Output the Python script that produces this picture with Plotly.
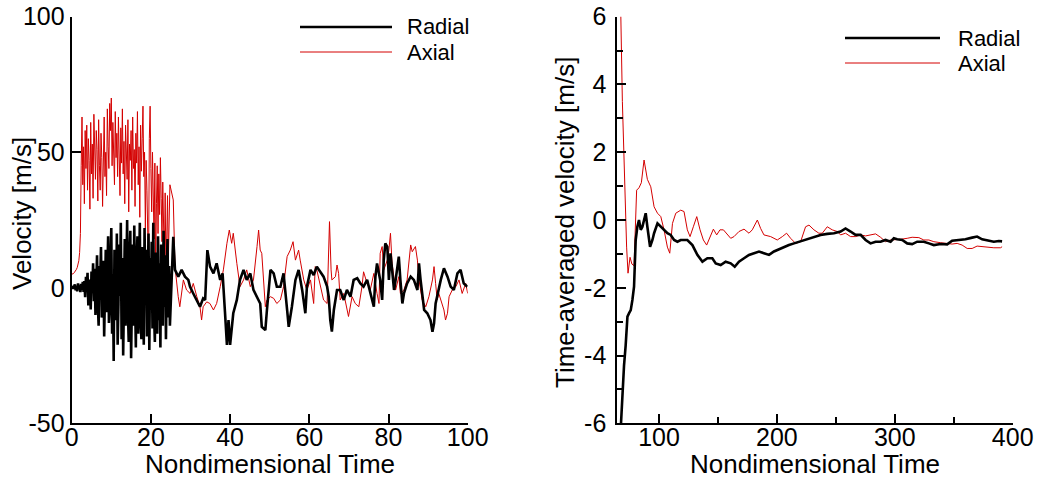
import numpy as np
import plotly.graph_objects as go

# ---------------- Left panel: instantaneous velocity ----------------
# dense early part, sampled every 0.2 time units (t = 0 ... 24.8)
t_early = np.round(np.arange(0, 24.81, 0.2), 2)

radial_early = [
    0, 0.6, -0.4, 0.2, 1.2, -0.9, 0.4, -1.3, 1.6, -0.3, 0.9, -1.6, 1.4, -0.8, 2.2, -1.5,
    2.5, -3.5, 4, -1, 5.5, -6.5, 1.5, 3, -8, 6, -2, 9, -5, 7,
    -10, 4, 12, -6, -14, 8, 3, 15, -11, -4, 10, -18, 6, 14, -9, 2, 19, -13, -7, 11,
    22, -17, 5, -27, 14, 9, -12, 20, -21, -6, 16, -3, 24, -19, 11, -25, 7, 18, -14, 2,
    25, -9, -20, 12, 21, -26, 4, 16, -14, 23, -4, -22, 10, 19, -17, 6, 24, -12, -19, 15,
    8, -21, 22, -5, 14, -18, 2, 20, -23, 11, -8, 17, -15, 24, -10, -20, 13, 6, -17, 19,
    -12, 9, -22, 16, 3, -14, 21, -7, 12, -19, 5, 18, -11, 8, -14,
]
axial_early = [
    5, 5, 5.2, 5.5, 5.8, 6.2, 6.8, 7.5, 8.5, 10, 13, 20,
    45, 63, 38, 52, 31, 58, 44, 60,
    36, 55, 47, 29, 61, 42, 53, 33, 64, 49,
    40, 58, 51, 32, 62, 45, 36, 57, 48, 30,
    55, 63, 41, 50, 34, 66, 52, 44, 68, 58,
    70, 45, 61, 53, 38, 65, 48, 57, 41, 63,
    50, 34, 59, 46, 66, 42, 54, 31, 60, 49,
    40, 62, 28, 53, 47, 58, 36, 63, 44, 51,
    30, 57, 46, 65, 38, 52, 26, 60, 43, 55,
    67, 41, 50, 22, 47, 36, 14, 4, 55, 67,
    44, 28, 50, 35, 18, 46, 4, 31, 45, 20,
    42, 27, 48, 33, 17, 39, 24, 8, 35, 4,
    18, 34, 10, 26, 38,
]

# later part read point by point
t_rad_late = [25.65, 26.08, 26.92, 27.76, 28.61, 29.45, 29.87, 30.7, 31.56, 32.4, 33.2, 33.7,
              34.26, 34.94, 35.8, 36.6, 37.5, 38.1, 38.7, 39.2, 39.6, 40.0, 40.8, 41.7, 42.5,
              43.4, 44.2, 45.1, 45.9, 46.8, 47.6, 48.0, 48.9, 49.3, 50.2, 51.0, 51.8, 52.7,
              53.5, 54.4, 54.8, 55.6, 56.5, 57.3, 58.2, 59.0, 59.4, 60.3,
              61.1, 61.9, 62.8, 63.6, 64.5, 64.9, 65.3, 65.7, 66.2, 67.0, 67.8, 68.7, 69.5,
              70.4, 71.2, 72.1, 72.9, 73.7, 74.6, 75.4, 76.3, 76.7, 77.1, 77.9, 78.4, 78.8,
              79.2, 79.7, 80.1, 80.5, 80.9, 81.4, 81.8, 82.6, 83.0, 83.5, 83.9, 84.7, 85.6,
              86.4, 87.3, 87.7, 88.1, 89.0, 89.8, 90.6, 91.1, 91.5, 91.9, 92.7, 93.2, 94.0,
              94.9, 95.7, 96.5, 97.4, 98.2, 99.0, 99.9]
radial_late = [18.8, 6.6, 4.1, 6.6, 4.1, 2.9, 0.4, -2.1, -4.5, -7, -3.9, -4.5,
               13.9, 7.8, 5.3, 9.0, 2.9, 5.3, -8.8, -21.1, -11.9, -21.1, -9.4, -4.5, 2.9,
               6.6, 2.9, 5.3, -0.8, -3.3, -5.8, -14.4, -15.6, -8.2, 6.6, 5.3, 0.4, 0.4,
               5.3, -8.2, -14.4, -7, 2.9, 6.6, -0.8, -9.4, 0.4, 6.6,
               4.7, 7.8, 5.9, 4.1, 0.4, -3.3, -11.9, -16.2, -8.2, -0.8, -0.8, -4.5, -0.8,
               -3.3, 2.9, 3.5, 1.6, 0.4, 2.9, -2.1, -7, 4.1, 9.0, 2.9, -4.5, 10.2,
               16.4, 15.1, 2.9, 12.7, 6.6, -0.8, 2.9, 11.5, 2.9, -5.8, -2.1, 1.6, 4.1,
               2.9, -0.8, 9.0, 2.9, -8.2, -9.4, -11.9, -16.2, -13.1, -5.8, 0.4, 2.9, 7.2,
               4.1, 0.4, -0.8, 5.3, 6.6, 1.6, 0.4]

t_ax_late = [25.65, 26.08, 26.9, 27.3, 28.2, 29.0, 29.9, 30.7, 31.6, 32.4, 32.8, 33.2, 34.1,
             34.9, 35.8, 36.6, 37.5, 38.3, 39.2, 39.8, 40.4, 40.8, 41.7, 42.5, 43.4, 44.2,
             45.1, 45.9, 46.8, 47.2, 47.6, 48.0, 48.9, 49.3, 50.2, 51.0, 51.8, 52.7, 53.5,
             54.4, 55.2, 55.9, 56.5, 57.3, 57.7, 58.6, 59.4, 60.3,
             61.1, 61.5, 61.9, 62.8, 63.6, 64.5, 64.9, 65.1, 65.5, 65.7, 66.6, 67.0, 67.4,
             67.8, 68.7, 69.5, 69.9, 70.8, 71.6, 72.5, 73.3, 73.7, 74.6, 75.4, 76.3, 77.1,
             77.6, 77.9, 78.4, 78.8, 79.7, 80.1, 80.5, 80.9, 81.4, 81.8, 82.6, 83.0, 83.9,
             84.7, 85.6, 86.0, 86.8, 87.3, 87.7, 88.5, 89.4, 90.2, 91.1, 91.5, 91.9, 92.3,
             92.7, 93.6, 94.0, 94.4, 94.9, 95.3, 96.1, 97.0, 97.8, 98.6, 99.5, 100.0]
axial_late = [32.4, 7.8, -3.3, -7, 2.9, -0.8, -2.1, 1.6, -3.3, -7, -11.9, -7, -5.2,
              -5.8, -8.2, -5.8, 0.4, 6.6, 16.4, 21.3, 16.4, 20.1, 9.0, 0.4, 2.9, 6.6,
              0.4, 2.9, 15.2, 21.3, 13.9, 12.7, -7, -4.5, -3.3, -3.9, -5.8, -4.5, 0.4,
              11.5, 13.9, 17.0, 10.2, 13.9, 10.2, 2.9, -0.8, 2.9,
              -5.8, 7.8, 6.6, 0.4, -4.5, -5.8, 18.8, 24.4, 6.6, 2.9, 4.1, 8.4, 5.3,
              -4.5, -2.1, -7, -10.6, -3.3, -5.8, -7, 0.4, 5.9, 1.6, -0.8, 5.3, -2.1,
              -5.8, 12.7, 15.2, 6.6, 10.2, 13.9, 20.1, 9.0, 2.9, -0.8, 4.1, -2.1, -0.8,
              2.9, 15.8, 13.3, 15.2, 10.2, 2.9, -4.5, -7, -3.3, 2.9, 7.8, 1.6, -4.5,
              -2.1, -7, -8.2, -11.9, -9.4, -3.3, -0.8, 0.4, 2.9, -2.1, 1.6, -2.1]

t_radial = list(t_early) + t_rad_late
v_radial = radial_early + radial_late
t_axial = list(t_early) + t_ax_late
v_axial = axial_early + axial_late

# ---------------- Right panel: time-averaged velocity ----------------
ta_radial = [67.0, 68.1, 68.9, 70.3, 71.7, 73.2, 74.6, 76.0, 77.4, 78.8, 80.2, 81.6, 83.0,
             84.5, 85.9, 87.3, 88.7, 90.1, 91.5, 92.4, 94.4, 95.8, 98.7, 101.5, 104.3,
             107.1, 109.9, 112.8, 115.6, 118.4, 124.0, 128.3, 132.5, 136.8, 141.0, 145.2,
             148.1, 152.3, 156.5, 160.8, 164.2, 167.8, 172.1, 176.3, 180.6, 184.8, 189.0,
             193.3, 197.5, 201.7, 206.0, 210.2, 214.5, 218.7, 222.9, 227.2, 231.4, 237.0,
             242.7, 248.4, 254.0, 258.2, 262.5, 266.7, 271.0, 275.2, 279.4, 283.7, 287.9,
             292.1, 296.4, 299.2, 302.0, 306.3, 310.5, 314.7, 319.0, 324.6, 328.9, 333.1,
             338.8, 344.4, 348.6, 354.3, 359.9, 365.6, 369.8, 374.1, 379.7, 384.0, 388.2, 391.0]
va_radial = [-6.5, -5.6, -5.3, -4.3, -3.7, -2.85, -2.75, -2.66, -2.36, -1.97, -0.59, -0.2, 0.0,
             -0.29, -0.2, 0.0, 0.2, -0.2, -0.49, -0.79, -0.59, -0.39, -0.1, -0.2, -0.29,
             -0.39, -0.44, -0.59, -0.64, -0.59, -0.59, -0.74, -1.03, -1.23, -1.13, -1.13,
             -1.28, -1.33, -1.23, -1.28, -1.38, -1.23, -1.13, -1.03, -0.98, -0.93, -0.98,
             -1.03, -0.93, -0.86, -0.79, -0.74, -0.69, -0.64, -0.59, -0.54, -0.49, -0.44,
             -0.41, -0.39, -0.34, -0.25, -0.34, -0.44, -0.44, -0.59, -0.69, -0.64, -0.64,
             -0.59, -0.64, -0.54, -0.57, -0.59, -0.69, -0.71, -0.64, -0.64, -0.69, -0.74,
             -0.71, -0.72, -0.61, -0.59, -0.57, -0.52, -0.49, -0.57, -0.61, -0.64, -0.62, -0.63]

ta_axial = [66.8, 67.5, 68.9, 70.9, 72.5, 73.7, 75.4, 77.0, 78.8, 81.0, 83.0, 85.0, 87.3,
            90.1, 93.0, 95.8, 98.7, 101.5, 104.3, 107.1, 109.1, 111.4, 114.2, 118.4, 121.2,
            124.0, 126.3, 129.1, 132.0, 134.8, 137.6, 140.4, 143.3, 146.1, 148.9, 151.7,
            154.6, 157.9, 160.8, 163.6, 167.8, 172.1, 176.3, 179.1, 183.4, 186.2, 189.0,
            194.7, 200.3, 204.6, 208.2, 211.6, 215.9, 220.1, 224.3, 227.2, 231.4, 235.6,
            238.5, 242.7, 246.9, 251.2, 254.0, 258.2, 262.5, 266.7, 271.0, 275.2, 279.4,
            283.7, 287.9, 292.1, 296.4, 300.6, 304.9, 310.5, 314.7, 320.4, 324.6, 328.9,
            333.1, 338.8, 344.4, 348.6, 352.9, 357.1, 361.4, 365.6, 369.8, 374.1, 378.3,
            384.0, 389.6, 391.0]
va_axial = [6.5, 6.2, 3.5, 0.6, -0.8, -1.57, -1.1, -1.3, -1.35, 0.88, 0.95, 1.1, 1.77,
            1.2, 0.98, 0.39, 0.2, 0.1, -0.3, -0.8, -0.98, -0.1, 0.2, 0.29, 0.25,
            -0.29, -0.49, -0.2, 0.1, -0.29, -0.59, -0.74, -0.49, -0.27, -0.44, -0.29,
            -0.29, -0.44, -0.54, -0.49, -0.34, -0.27, -0.39, -0.29, 0.0, -0.25, -0.44,
            -0.49, -0.59, -0.49, -0.39, -0.54, -0.69, -0.64, -0.2, -0.15, -0.29, -0.39,
            -0.39, -0.2, -0.29, -0.34, -0.44, -0.39, -0.49, -0.49, -0.44, -0.47, -0.44,
            -0.41, -0.51, -0.64, -0.59, -0.59, -0.57, -0.54, -0.51, -0.52, -0.59, -0.59,
            -0.64, -0.67, -0.69, -0.71, -0.69, -0.74, -0.84, -0.84, -0.77, -0.79, -0.81,
            -0.82, -0.82, -0.79]

left_xticks = [0, 20, 40, 60, 80, 100]
left_yticks = [-50, 0, 50, 100]
right_xticks = [100, 200, 300, 400]
right_yticks = [-6, -4, -2, 0, 2, 4, 6]

BLACK = "#000000"
RED = "#D40000"
FONT = "Liberation Sans, Arial, sans-serif"
W, H = 1037, 479
BW = 2.6  # radial line width


def labels(vals):
    return [str(v) for v in vals]  # plain hyphen-minus, as in the reference


fig = go.Figure()
fig.add_trace(go.Scatter(x=t_axial, y=v_axial, mode="lines", line=dict(color=RED, width=1),
                         xaxis="x", yaxis="y", showlegend=False))
fig.add_trace(go.Scatter(x=t_radial, y=v_radial, mode="lines", line=dict(color=BLACK, width=BW),
                         xaxis="x", yaxis="y", showlegend=False))
fig.add_trace(go.Scatter(x=ta_axial, y=va_axial, mode="lines", line=dict(color=RED, width=1),
                         xaxis="x2", yaxis="y2", showlegend=False))
fig.add_trace(go.Scatter(x=ta_radial, y=va_radial, mode="lines", line=dict(color=BLACK, width=BW),
                         xaxis="x2", yaxis="y2", showlegend=False))

axis_common = dict(showline=True, linewidth=2, linecolor=BLACK, mirror=False,
                   ticks="inside", ticklen=9, tickwidth=1.5, tickcolor=BLACK,
                   showgrid=False, zeroline=False, tickmode="array",
                   tickfont=dict(family=FONT, size=25, color=BLACK))

ydom = [1 - 423.3 / H, 1 - 16.7 / H]
fig.update_layout(
    width=W, height=H,
    margin=dict(l=0, r=0, t=0, b=0),
    paper_bgcolor="white", plot_bgcolor="white",
    font=dict(family=FONT, color=BLACK),
    xaxis=dict(domain=[71.7 / W, 467.7 / W], range=[0, 100], tickvals=left_xticks,
               ticktext=labels(left_xticks), ticklabelstandoff=-9,
               anchor="y", automargin=False, **axis_common),
    yaxis=dict(domain=ydom, range=[-50, 100], tickvals=left_yticks,
               ticktext=labels(left_yticks),
               anchor="x", automargin=False, **axis_common),
    xaxis2=dict(domain=[617.3 / W, 1012.7 / W], range=[64.6, 400], tickvals=right_xticks,
                ticktext=labels(right_xticks), ticklabelstandoff=-9,
                anchor="y2", automargin=False,
                minor=dict(ticks="inside", ticklen=6, tickwidth=1.5, tickcolor=BLACK,
                           tickvals=[150, 250, 350], showgrid=False),
                **axis_common),
    yaxis2=dict(domain=ydom, range=[-6, 6], tickvals=right_yticks,
                ticktext=labels(right_yticks), ticklabelstandoff=4,
                anchor="x2", automargin=False,
                minor=dict(ticks="inside", ticklen=6, tickwidth=1.5, tickcolor=BLACK,
                           tickvals=[-5, -3, -1, 1, 3, 5], showgrid=False),
                **axis_common),
)

# axis titles
title_font = dict(family=FONT, size=26, color=BLACK)
ann = [
    dict(text="Nondimensional Time", x=270 / W, y=1 - 464 / H, xref="paper", yref="paper",
         showarrow=False, font=title_font, xanchor="center", yanchor="middle"),
    dict(text="Nondimensional Time", x=815 / W, y=1 - 464 / H, xref="paper", yref="paper",
         showarrow=False, font=title_font, xanchor="center", yanchor="middle"),
    dict(text="Velocity [m/s]", x=22 / W, y=1 - 214 / H, xref="paper", yref="paper",
         showarrow=False, font=title_font, textangle=-90, xanchor="center", yanchor="middle"),
    dict(text="Time-averaged velocity [m/s]", x=565 / W, y=1 - 223 / H, xref="paper", yref="paper",
         showarrow=False, font=title_font, textangle=-90, xanchor="center", yanchor="middle"),
]

# legends (drawn as line samples + labels)
leg_font = dict(family=FONT, size=22, color=BLACK)
legend_items = [
    (300, 392, 27, BLACK, BW, "Radial", 405),
    (300, 392, 52, RED, 1, "Axial", 405),
    (845, 940, 38, BLACK, BW, "Radial", 956),
    (845, 940, 63, RED, 1, "Axial", 956),
]
shapes = []
for x0, x1, yy, col, lw, label, xt in legend_items:
    shapes.append(dict(type="line", xref="paper", yref="paper", x0=x0 / W, x1=x1 / W,
                       y0=1 - yy / H, y1=1 - yy / H, line=dict(color=col, width=lw)))
    ann.append(dict(text=label, x=xt / W, y=1 - yy / H, xref="paper", yref="paper",
                    showarrow=False, font=leg_font, xanchor="left", yanchor="middle"))

fig.update_layout(annotations=ann, shapes=shapes)
fig.write_html("out.html")
